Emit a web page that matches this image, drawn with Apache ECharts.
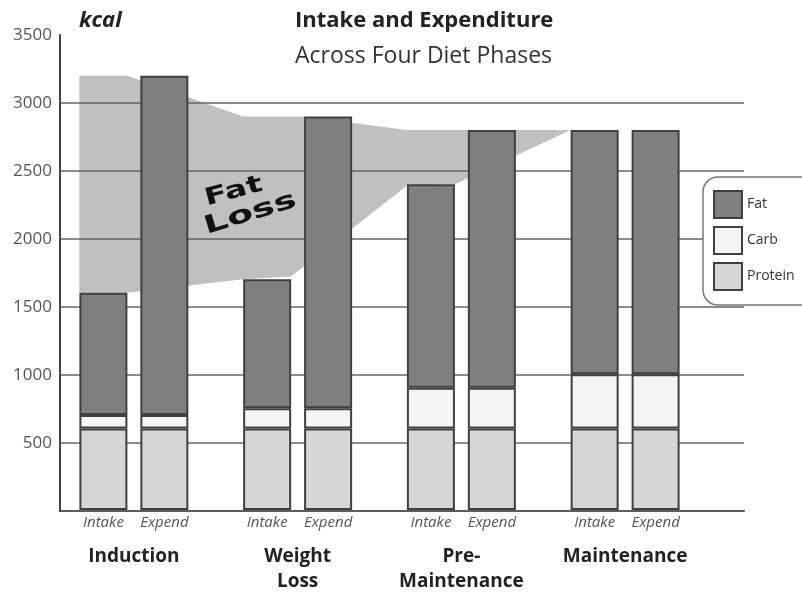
<!DOCTYPE html>
<html><head><meta charset="utf-8">
<script src="https://cdn.jsdelivr.net/npm/echarts@6/dist/echarts.min.js"></script>
<style>html,body{margin:0;padding:0;background:#fff}#c{width:802px;height:594px}</style>
</head><body><div id="c"></div>
<script>
// ---- data ----
const phases = ['Induction', 'Weight\nLoss', 'Pre-\nMaintenance', 'Maintenance'];
const barLabels = ['Intake', 'Expend'];
const intakeProtein = [600, 600, 600, 600];
const intakeCarb = [100, 150, 300, 400];
const intakeFat = [900, 950, 1500, 1800];
const expendProtein = [600, 600, 600, 600];
const expendCarb = [100, 150, 300, 400];
const expendFat = [2500, 2150, 1900, 1800];
const yTicks = [500, 1000, 1500, 2000, 2500, 3000, 3500];
// Fat-loss band, [phase position, kcal]
const fatLossTop = [[-0.333, 3200], [-0.04, 3200], [0.667, 2900], [1.04, 2900], [1.667, 2800], [2.667, 2800]];
const fatLossBottom = [[1.96, 2400], [1.667, 2390], [0.96, 1720], [0.667, 1700], [-0.04, 1600], [-0.333, 1600]];

const FONT = 'Open Sans';
const colors = { Fat: '#7f7f7f', Carb: '#f4f4f4', Protein: '#d6d6d6' };
const border = { borderColor: '#404040', borderWidth: 2 };

function barSeries(name, data, stack, labelText) {
  const s = {
    name: name, type: 'bar', stack: stack, data: data,
    xAxisIndex: 1, yAxisIndex: 1, barWidth: 48, barGap: '27%', z: 3,
    itemStyle: Object.assign({ color: colors[name] }, border)
  };
  if (labelText) {
    s.label = { show: true, position: 'bottom', distance: 5, formatter: labelText,
      fontFamily: FONT, fontStyle: 'italic', fontSize: 15, color: '#555' };
  }
  return s;
}

const chart = echarts.init(document.getElementById('c'), null, { renderer: 'canvas' });
chart.setOption({
  backgroundColor: '#fff',
  animation: false,
  title: [
    { text: 'Intake and Expenditure', left: 290, top: 5,
      textStyle: { fontFamily: FONT, fontWeight: 'bold', fontSize: 22, color: '#222' } },
    { text: 'Across Four Diet Phases', left: 290, top: 40,
      textStyle: { fontFamily: FONT, fontWeight: 'normal', fontSize: 23, color: '#333' } },
    { text: 'kcal', left: 74, top: 5,
      textStyle: { fontFamily: FONT, fontWeight: 'bold', fontStyle: 'italic', fontSize: 22, color: '#222' } }
  ],
  legend: {
    data: ['Fat', 'Carb', 'Protein'], orient: 'vertical', left: 703, top: 177,
    backgroundColor: '#fff', borderColor: '#777', borderWidth: 1.5, borderRadius: 15,
    padding: [13, 30, 14, 10], itemWidth: 28, itemHeight: 27, itemGap: 7, icon: 'rect',
    itemStyle: { borderColor: '#404040', borderWidth: 2 },
    textStyle: { fontFamily: FONT, fontSize: 14, color: '#333' }, z: 10
  },
  grid: [
    { left: 60, right: 58, top: 35, bottom: 83 },
    { left: 52, right: 95, top: 35, bottom: 83 }
  ],
  xAxis: [
    { type: 'value', gridIndex: 0, min: 0, max: 1, axisLine: { show: true, lineStyle: { color: '#444', width: 2 } },
      axisLabel: { show: false }, axisTick: { show: false }, splitLine: { show: false } },
    { type: 'category', gridIndex: 1, data: phases,
      axisLine: { show: false }, axisTick: { show: false },
      axisLabel: { margin: 34, fontFamily: FONT, fontWeight: 'bold', fontSize: 19, color: '#222', lineHeight: 25 } },
    { type: 'value', gridIndex: 1, min: -0.5, max: 3.5, show: false }
  ],
  yAxis: [
    { type: 'value', gridIndex: 0, min: 0, max: 3500, interval: 500, z: 1,
      axisLine: { show: true, lineStyle: { color: '#444', width: 2 } }, axisTick: { show: false },
      axisLabel: { margin: 8, fontFamily: FONT, fontSize: 17, color: '#555',
        formatter: v => (yTicks.indexOf(v) >= 0 ? String(v) : '') },
      splitLine: { show: true, showMaxLine: false, lineStyle: { color: '#666', width: 1.5 } } },
    { type: 'value', gridIndex: 1, min: 0, max: 3500, interval: 500, show: false }
  ],
  series: [
    {
      type: 'custom', name: 'Fat Loss', xAxisIndex: 2, yAxisIndex: 1, z: 0, silent: true,
      data: [[0, 0]],
      renderItem: function (params, api) {
        const pts = fatLossTop.concat(fatLossBottom).map(p => api.coord(p));
        return { type: 'polygon', shape: { points: pts }, style: { fill: '#c0c0c0' } };
      }
    },
    barSeries('Protein', intakeProtein, 'intake', barLabels[0]),
    barSeries('Carb', intakeCarb, 'intake'),
    barSeries('Fat', intakeFat, 'intake'),
    barSeries('Protein', expendProtein, 'expend', barLabels[1]),
    barSeries('Carb', expendCarb, 'expend'),
    barSeries('Fat', expendFat, 'expend')
  ],
  graphic: [
    { type: 'text', x: 202, y: 188, rotation: 15 * Math.PI / 180, scaleX: 1.75, scaleY: 1.25, z: 5,
      style: { text: 'Fat', fontFamily: 'DejaVu Sans', fontWeight: 'bold', fontSize: 19,
        fill: '#111', textAlign: 'left', textVerticalAlign: 'top' } },
    { type: 'text', x: 201, y: 216, rotation: 17 * Math.PI / 180, scaleX: 2.0, scaleY: 1.3, z: 5,
      style: { text: 'Loss', fontFamily: 'DejaVu Sans', fontWeight: 'bold', fontSize: 19,
        fill: '#111', textAlign: 'left', textVerticalAlign: 'top' } }
  ]
});
</script></body></html>
